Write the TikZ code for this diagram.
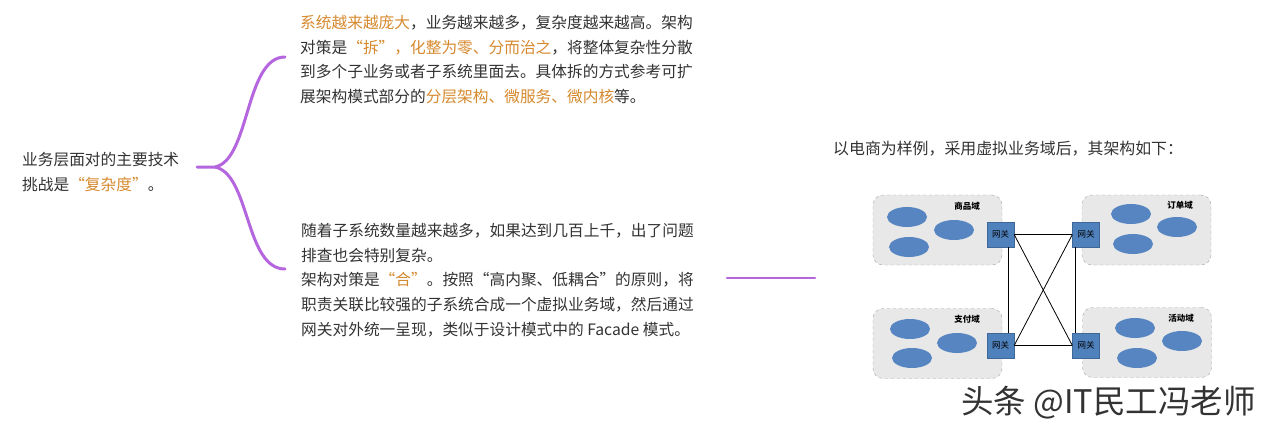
\documentclass[tikz,border=0pt]{standalone}
\usepackage{fontspec}
\setmainfont{Noto Sans CJK SC}
\usetikzlibrary{shapes.geometric}
\definecolor{txtgray}{HTML}{333333}
\definecolor{hlorange}{HTML}{D68A2E}
\definecolor{bracepurple}{RGB}{181,102,222}
\definecolor{gwblue}{HTML}{4F81BD}
\definecolor{cellblue}{HTML}{5685C2}
\definecolor{domfill}{HTML}{E8E8E8}
\definecolor{domline}{HTML}{A6A6A6}
\newcommand\hl[1]{\textcolor{hlorange}{#1}}
\tikzset{
  txt/.style={anchor=north west, inner sep=0pt, align=left, text=txtgray,
    font=\fontsize{15.7}{24.7}\selectfont},
  brace/.style={draw=bracepurple, line width=3pt, line cap=round},
  dombox/.style={draw=domline, dashed, fill=domfill, rounded corners=10pt,
    minimum width=129pt, minimum height=70pt, inner sep=0pt},
  domlabel/.style={font=\fontsize{8.5}{9}\selectfont\bfseries, text=black, inner sep=0pt},
  cell/.style={ellipse, fill=cellblue, minimum width=40pt, minimum height=20pt, inner sep=0pt},
  gw/.style={fill=gwblue, draw=gwblue!80!black, line width=0.3pt, minimum width=27pt,
    minimum height=25pt, inner sep=0pt, font=\fontsize{8.5}{9}\selectfont, text=black},
  link/.style={draw=black, line width=0.8pt}
}
\begin{document}
\begin{tikzpicture}[x=1pt,y=-1pt]
  \useasboundingbox[fill=white] (0,0) rectangle (1269,431);

  % left question
  \node[txt] (challenge) at (22,152) {业务层面对的主要技术\\挑战是\hl{“复杂度”}。};

  % two answers
  \node[txt] (split) at (300,15) {\hl{系统越来越庞大}，业务越来越多，复杂度越来越高。架构\\
    对策是\hl{“拆”，化整为零、分而治之}，将整体复杂性分散\\
    到多个子业务或者子系统里面去。具体拆的方式参考可扩\\
    展架构模式部分的\hl{分层架构、微服务、微内核}等。};
  \node[txt] (merge) at (301,223) {随着子系统数量越来越多，如果达到几百上千，出了问题\\
    排查也会特别复杂。\\
    架构对策是\hl{“合”}。按照“高内聚、低耦合”的原则，将\\
    职责关联比较强的子系统合成一个虚拟业务域，然后通过\\
    网关对外统一呈现，类似于设计模式中的 Facade 模式。};

  % brace
  \coordinate (root) at (197,167);
  \coordinate (fork) at (215,167);
  \coordinate (top) at (285,57);
  \coordinate (bottom) at (285,269);
  \draw[brace] (root) -- (fork) .. controls (250,160) and (245,57) .. (top);
  \draw[brace] (fork) .. controls (250,174) and (245,269) .. (bottom);

  % link to example
  \coordinate (linkA) at (727,278);
  \coordinate (linkB) at (815,278);
  \draw[brace, line width=2.6pt] (linkA) -- (linkB);

  \node[txt, font=\fontsize{15.9}{24}\selectfont] (example) at (833,141)
    {以电商为样例，采用虚拟业务域后，其架构如下：};

  % domains
  \node[dombox] (dProduct) at (937.5,230) {};
  \node[dombox] (dOrder) at (1146.5,230) {};
  \node[dombox] (dPay) at (937.5,343.5) {};
  \node[dombox] (dEvent) at (1147,342.5) {};

  \node[domlabel] (lProduct) at (967,206) {商品域};
  \node[domlabel] (lOrder) at (1180,205) {订单域};
  \node[domlabel] (lPay) at (967,319) {支付域};
  \node[domlabel] (lEvent) at (1181,318) {活动域};

  \node[cell] (p1) at (907,217) {};
  \node[cell] (p2) at (954,230) {};
  \node[cell] (p3) at (909,247) {};
  \node[cell] (o1) at (1131,214) {};
  \node[cell] (o2) at (1177,227) {};
  \node[cell] (o3) at (1133,244) {};
  \node[cell] (y1) at (910,329) {};
  \node[cell] (y2) at (957,343) {};
  \node[cell] (y3) at (912,358) {};
  \node[cell] (e1) at (1135,328) {};
  \node[cell] (e2) at (1182,341) {};
  \node[cell] (e3) at (1137,358) {};

  % gateways
  \node[gw] (gwA) at (1000.5,234.5) {网关};
  \node[gw] (gwB) at (1086,234.5) {网关};
  \node[gw] (gwC) at (1000.5,345.5) {网关};
  \node[gw] (gwD) at (1086,345.5) {网关};

  \draw[link] (gwA.east) -- (gwB.west);
  \draw[link] (gwC.east) -- (gwD.west);
  \draw[link] (gwA.east) -- (gwD.west);
  \draw[link] (gwB.west) -- (gwC.east);
  \draw[link] ([xshift=-6pt]gwA.south east) -- ([xshift=-6pt]gwC.north east);
  \draw[link] ([xshift=3pt]gwB.south west) -- ([xshift=3pt]gwD.north west);

  % watermark
  \node[anchor=west, inner sep=0pt, text=black!80, font=\fontsize{32.5}{34}\selectfont]
    (mark) at (961,403) {头条 @IT民工冯老师};
\end{tikzpicture}
\end{document}
